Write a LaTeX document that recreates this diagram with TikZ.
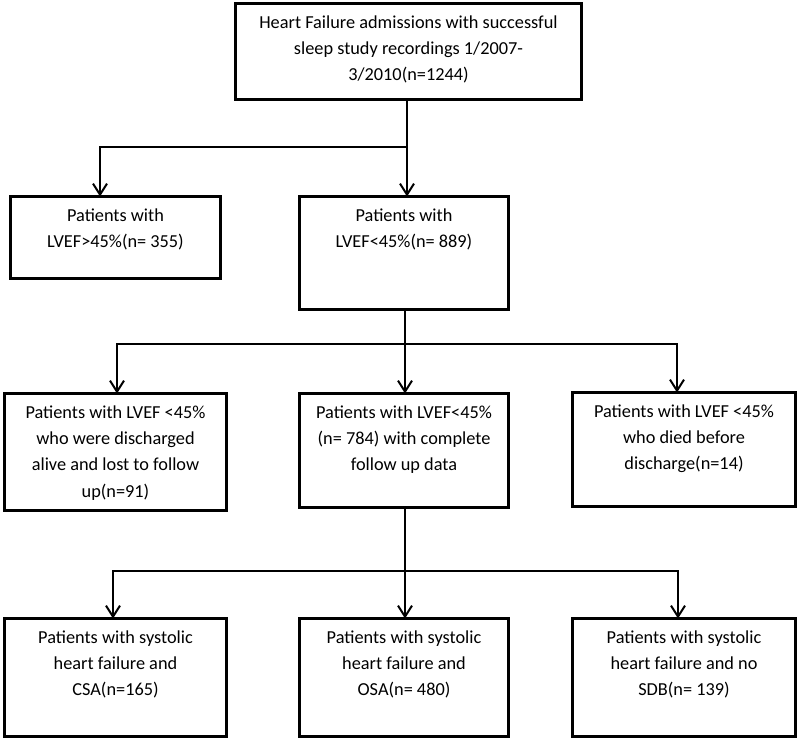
\documentclass[tikz,border=0pt]{standalone}
\usepackage{fontspec}
\setmainfont{Carlito}
\usetikzlibrary{arrows.meta}
\newcommand{\fl}{\rule{0pt}{15pt}}
\begin{document}
\begin{tikzpicture}[x=1pt,y=-1pt,
  boxnode/.style={draw,line width=3pt,inner sep=0pt,outer sep=0pt},
  txt/.style={anchor=north,inner sep=0pt,align=center,font=\fontsize{18.3}{26.3}\selectfont},
  arr/.style={line width=2pt,-{Straight Barb[length=11pt,width=14pt,line width=2pt]}}]
\useasboundingbox (0,0) rectangle (800,741);
% boxes
\node[boxnode,minimum width=346pt,minimum height=96pt] (top) at (408.5,51.5) {};
\node[boxnode,minimum width=210pt,minimum height=82pt] (b1) at (115.5,237.5) {};
\node[boxnode,minimum width=209pt,minimum height=113pt] (b2) at (404,253) {};
\node[boxnode,minimum width=222pt,minimum height=117pt] (c1) at (115.5,452) {};
\node[boxnode,minimum width=209pt,minimum height=114pt] (c2) at (404,450.5) {};
\node[boxnode,minimum width=223pt,minimum height=114pt] (c3) at (684,449.5) {};
\node[boxnode,minimum width=222pt,minimum height=118pt] (d1) at (115.5,677.5) {};
\node[boxnode,minimum width=209pt,minimum height=118pt] (d2) at (404,677.5) {};
\node[boxnode,minimum width=223pt,minimum height=118pt] (d3) at (684,677.5) {};
% texts
\node[txt] (topt) at ([yshift=-9.5pt]top.north) {\fl Heart Failure admissions with successful\\sleep study recordings 1/2007-\\3/2010(n=1244)};
\node[txt] (b1t) at ([yshift=-9.5pt]b1.north) {\fl Patients with\\LVEF>45\%(n= 355)};
\node[txt] (b2t) at ([yshift=-9.5pt]b2.north) {\fl Patients with\\LVEF<45\%(n= 889)};
\node[txt] (c1t) at ([yshift=-9.5pt]c1.north) {\fl Patients with LVEF <45\%\\who were discharged\\alive and lost to follow\\up(n=91)};
\node[txt] (c2t) at ([yshift=-9.5pt]c2.north) {\fl Patients with LVEF<45\%\\(n= 784) with complete\\follow up data};
\node[txt] (c3t) at ([yshift=-9.5pt]c3.north) {\fl Patients with LVEF <45\%\\who died before\\discharge(n=14)};
\node[txt] (d1t) at ([yshift=-9.5pt]d1.north) {\fl Patients with systolic\\heart failure and\\CSA(n=165)};
\node[txt] (d2t) at ([yshift=-9.5pt]d2.north) {\fl Patients with systolic\\heart failure and\\OSA(n= 480)};
\node[txt] (d3t) at ([yshift=-9.5pt]d3.north) {\fl Patients with systolic\\heart failure and no\\SDB(n= 139)};
% junction coordinates
\coordinate (j1) at (407,147);
\coordinate (j1l) at (100,147);
\coordinate (j2) at (405,344);
\coordinate (j2l) at (117,344);
\coordinate (j2r) at (677,344);
\coordinate (j3) at (405,571);
\coordinate (j3l) at (113,571);
\coordinate (j3r) at (678,571);
% connectors
\draw[arr] (top.south -| j1) -- (b2.north -| j1);
\draw[arr] (j1) -| (b1.north -| j1l);
\draw[arr] (b2.south -| j2) -- (c2.north -| j2);
\draw[arr] (j2) -| (c1.north -| j2l);
\draw[arr] (j2) -| (c3.north -| j2r);
\draw[arr] (c2.south -| j3) -- (d2.north -| j3);
\draw[arr] (j3) -| (d1.north -| j3l);
\draw[arr] (j3) -| (d3.north -| j3r);
\end{tikzpicture}
\end{document}
